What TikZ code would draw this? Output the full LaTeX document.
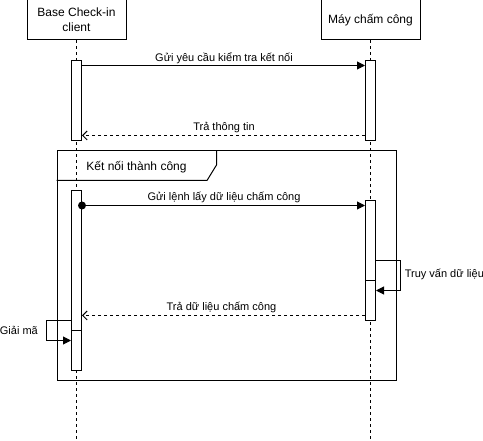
\documentclass[tikz,border=0pt]{standalone}
\usepackage{fontspec}
\setmainfont{Liberation Sans}
\usetikzlibrary{arrows.meta}
\begin{document}
\begin{tikzpicture}[x=1pt,y=-1pt,line width=1pt,
  actor/.style={draw,fill=white,minimum width=99pt,minimum height=40pt,inner sep=0pt,align=center,font=\fontsize{12}{15}\selectfont},
  actbox/.style={draw,fill=white,minimum width=10pt,inner sep=0pt,anchor=north},
  lbl/.style={font=\fontsize{11}{13}\selectfont,inner sep=0pt},
  life/.style={dash pattern=on 3pt off 3pt},
  msg/.style={-{Triangle[length=8pt,width=8pt]}},
  ret/.style={dash pattern=on 3pt off 3pt,-{Straight Barb[length=4.5pt,width=9pt]}}]
\useasboundingbox (0,0) rectangle (483,441);
% actors
\node[actor] (A) at (76.5,20) {Base Check-in\\client};
\node[actor] (B) at (370.5,20) {Máy chấm công};
\coordinate (Aend) at (76.5,441);
\coordinate (Bend) at (370.5,441);
\draw[life] (A.south) -- (Aend);
\draw[life] (B.south) -- (Bend);
% first activations
\node[actbox,minimum height=80pt] (a1) at (76.5,60.5) {};
\node[actbox,minimum height=80pt] (b1) at (370.5,60.5) {};
\coordinate (y1) at (0,65.5);
\draw[msg] (a1.east |- y1) -- (b1.west |- y1);
\node[lbl,anchor=base] (l1) at (224,61.3) {Gửi yêu cầu kiểm tra kết nối};
\coordinate (y2) at (0,135.5);
\draw[ret] (b1.west |- y2) -- (a1.east |- y2);
\node[lbl,anchor=base] (l2) at (224,130.3) {Trả thông tin};
% frame
\node[draw,minimum width=339.5pt,minimum height=229.5pt,inner sep=0pt,anchor=north west] (frame) at (56.5,150.5) {};
\coordinate (t1) at (56.5,180.5);
\coordinate (t2) at (207,180.5);
\coordinate (t3) at (216.5,165);
\coordinate (t4) at (216.5,150.5);
\draw (t1) -- (t2) -- (t3) -- (t4);
\node[font=\fontsize{12}{14}\selectfont,inner sep=0pt,anchor=base] (ft) at (136.5,170.3) {Kết nối thành công};
% second activations
\node[actbox,minimum height=140pt] (a2) at (76.5,190.5) {};
\node[actbox,minimum height=40pt] (a3) at (76.5,330.5) {};
\node[actbox,minimum height=80pt] (b2) at (370.5,200.5) {};
\node[actbox,minimum height=40pt] (b3) at (370.5,280.5) {};
\coordinate (y3) at (0,205.5);
\node[circle,fill=black,inner sep=0pt,minimum size=8pt] (dot) at (a2.east |- y3) {};
\draw[msg] (dot.center) -- (b2.west |- y3);
\node[lbl,anchor=base] (l3) at (224,201) {Gửi lệnh lấy dữ liệu chấm công};
% self call right
\coordinate (y4) at (0,260.5);
\coordinate (y5) at (0,290.5);
\coordinate (rx) at (400.5,0);
\draw[msg] (b2.east |- y4) -- (rx |- y4) -- (rx |- y5) -- (b3.east |- y5);
\node[lbl,anchor=base west] (l4) at (404.3,277.7) {Truy vấn dữ liệu};
% return
\coordinate (y6) at (0,315.5);
\draw[ret] (b3.west |- y6) -- (a2.east |- y6);
\node[lbl,anchor=base] (l5) at (221.5,310.7) {Trả dữ liệu chấm công};
% self call left
\coordinate (y7) at (0,320.5);
\coordinate (y8) at (0,340.5);
\coordinate (lx) at (46.5,0);
\draw[msg] (a2.west |- y7) -- (lx |- y7) -- (lx |- y8) -- (a3.west |- y8);
\node[lbl,anchor=base east] (l6) at (38.3,335) {Giải mã};
\end{tikzpicture}
\end{document}
